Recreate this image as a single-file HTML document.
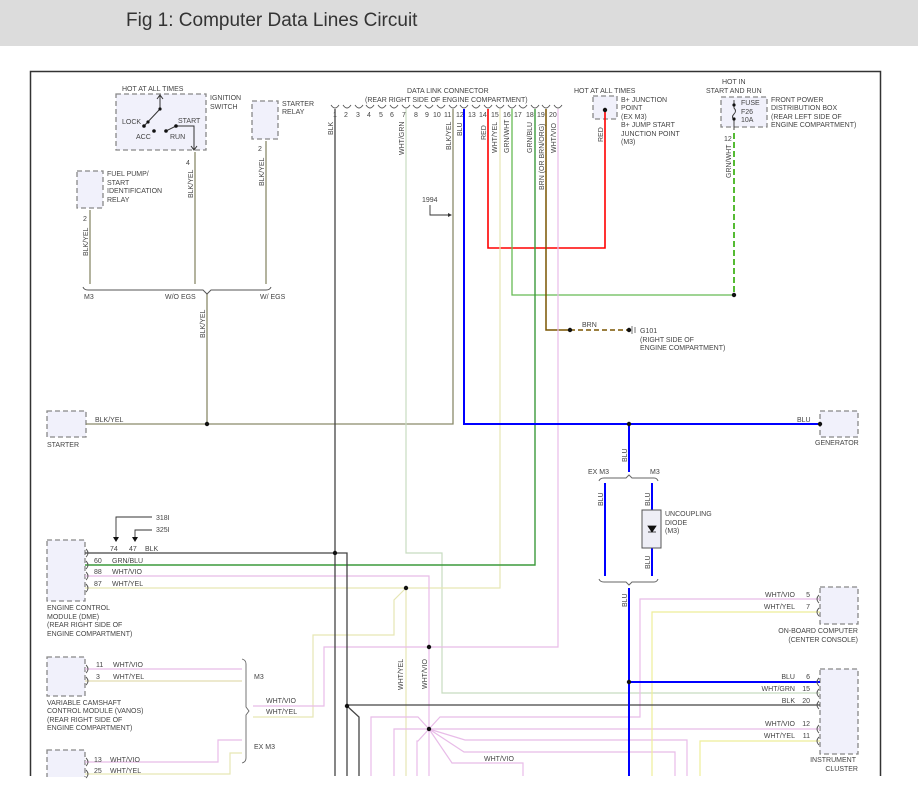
<!DOCTYPE html>
<html><head><meta charset="utf-8"><style>
html,body{margin:0;padding:0;background:#fff;width:918px;height:811px;overflow:hidden}
svg{display:block}
text{font-family:"Liberation Sans",sans-serif;font-size:7px;fill:#444}
.t{font-size:19px;fill:#333}
.box{fill:#f1f1fb;stroke:#888;stroke-width:1.3;stroke-dasharray:5,3}
.w{fill:none}
</style></head><body>
<svg width="918" height="811" viewBox="0 0 918 811" xmlns="http://www.w3.org/2000/svg">
<rect x="0" y="0" width="918" height="46" fill="#dcdcdc"/>
<text x="126" y="26" class="t">Fig 1: Computer Data Lines Circuit</text>
<path d="M30.5 776 V71.5 H880.5 V776" fill="none" stroke="#333" stroke-width="1.5"/>

<!-- boxes -->
<rect class="box" x="116" y="94" width="90" height="56"/>
<rect class="box" x="252" y="101" width="26" height="38"/>
<rect class="box" x="77" y="171" width="26" height="37"/>
<rect class="box" x="593" y="96" width="24" height="23"/>
<rect class="box" x="721" y="97" width="46" height="30"/>
<rect class="box" x="47" y="411" width="39" height="26"/>
<rect class="box" x="820" y="411" width="38" height="26"/>
<rect class="box" x="47" y="540" width="38" height="61"/>
<rect class="box" x="47" y="657" width="38" height="39"/>
<rect class="box" x="47" y="750" width="38" height="40"/>
<rect class="box" x="820" y="587" width="38" height="37"/>
<rect class="box" x="820" y="669" width="38" height="85"/>
<rect x="0" y="777" width="918" height="34" fill="#fff"/>

<!-- ignition switch -->
<g stroke="#333" fill="none" stroke-width="1">
<path d="M144 126 L160 109 V96"/><path d="M157 99 L160 95 L163 99"/>
<path d="M176 126 H194 V149"/><path d="M191 146 L194 150 L197 146"/>
<path d="M166 131 L176 126"/>
</g>
<g fill="#111"><circle cx="144" cy="126" r="1.8"/><circle cx="148" cy="122" r="1.6"/><circle cx="160" cy="109" r="1.6"/><circle cx="154" cy="131" r="1.8"/><circle cx="166" cy="131" r="1.8"/><circle cx="176" cy="126" r="1.8"/></g>
<text x="122" y="91">HOT AT ALL TIMES</text>
<text x="210" y="100">IGNITION</text><text x="210" y="109">SWITCH</text>
<text x="122" y="124">LOCK</text><text x="136" y="139">ACC</text><text x="178" y="123">START</text><text x="170" y="139">RUN</text>
<text x="282" y="106">STARTER</text><text x="282" y="114">RELAY</text>
<text x="107" y="176">FUEL PUMP/</text><text x="107" y="185">START</text><text x="107" y="193">IDENTIFICATION</text><text x="107" y="202">RELAY</text>
<text x="186" y="165">4</text><text x="258" y="151">2</text><text x="83" y="221">2</text>

<!-- BLK/YEL wires -->
<g stroke="#8a8a6a" stroke-width="1.3" fill="none">
<path d="M195 152 V284"/><path d="M266 141 V284"/><path d="M90 210 V284"/>
<path d="M207 294 V424"/><path d="M86 424 H453 V109"/>
</g>
<path d="M83 287 Q84 290 88 290 H203 L207 294 L211 290 H266 Q270 290 271 287" fill="none" stroke="#555" stroke-width="1"/>
<text x="84" y="299">M3</text><text x="165" y="299">W/O EGS</text><text x="260" y="299">W/ EGS</text>
<text transform="translate(193,198) rotate(-90)">BLK/YEL</text>
<text transform="translate(264,186) rotate(-90)">BLK/YEL</text>
<text transform="translate(88,256) rotate(-90)">BLK/YEL</text>
<text transform="translate(205,338) rotate(-90)">BLK/YEL</text>
<text x="95" y="422">BLK/YEL</text>
<text x="47" y="447">STARTER</text>
<text x="815" y="445">GENERATOR</text>

<!-- DLC -->
<text x="407" y="93">DATA LINK CONNECTOR</text>
<text x="365" y="102">(REAR RIGHT SIDE OF ENGINE COMPARTMENT)</text>
<g stroke="#555" fill="none" stroke-width="0.9">
<path d="M331 105 Q335 111 339 105 M343 105 Q347 111 351 105 M355 105 Q359 111 363 105 M366 105 Q370 111 374 105 M378 105 Q382 111 386 105 M390 105 Q394 111 398 105 M402 105 Q406 111 410 105 M413 105 Q417 111 421 105 M425 105 Q429 111 433 105 M437 105 Q441 111 445 105 M449 105 Q453 111 457 105 M460 105 Q464 111 468 105 M472 105 Q476 111 480 105 M484 105 Q488 111 492 105 M496 105 Q500 111 504 105 M508 105 Q512 111 516 105 M519 105 Q523 111 527 105 M531 105 Q535 111 539 105 M542 105 Q546 111 550 105 M554 105 Q558 111 562 105"/>
</g>
<g font-size="7"><text x="333" y="117">1</text><text x="344" y="117">2</text><text x="356" y="117">3</text><text x="367" y="117">4</text><text x="379" y="117">5</text><text x="390" y="117">6</text><text x="402" y="117">7</text><text x="414" y="117">8</text><text x="425" y="117">9</text><text x="433" y="117">10</text><text x="444" y="117">11</text><text x="456" y="117">12</text><text x="468" y="117">13</text><text x="479" y="117">14</text><text x="491" y="117">15</text><text x="503" y="117">16</text><text x="514" y="117">17</text><text x="526" y="117">18</text><text x="537" y="117">19</text><text x="549" y="117">20</text></g>
<text transform="translate(333,135) rotate(-90)">BLK</text>
<text transform="translate(404,155) rotate(-90)">WHT/GRN</text>
<text transform="translate(451,150) rotate(-90)">BLK/YEL</text>
<text transform="translate(462,136) rotate(-90)">BLU</text>
<text transform="translate(486,140) rotate(-90)">RED</text>
<text transform="translate(497,153) rotate(-90)">WHT/YEL</text>
<text transform="translate(509,153) rotate(-90)">GRN/WHT</text>
<text transform="translate(532,153) rotate(-90)">GRN/BLU</text>
<text transform="translate(544,190) rotate(-90)">BRN (OR BRN/ORG)</text>
<text transform="translate(556,153) rotate(-90)">WHT/VIO</text>
<text transform="translate(603,142) rotate(-90)">RED</text>
<text x="422" y="202">1994</text>
<path d="M430 205 V215 H450" fill="none" stroke="#333" stroke-width="0.9"/><path d="M448 213 L452 215 L448 217Z" fill="#333"/>

<!-- B+ junction -->
<text x="574" y="93">HOT AT ALL TIMES</text>
<text x="621" y="102">B+ JUNCTION</text><text x="621" y="110">POINT</text><text x="621" y="119">(EX M3)</text><text x="621" y="127">B+ JUMP START</text><text x="621" y="136">JUNCTION POINT</text><text x="621" y="144">(M3)</text>
<path d="M488 109 V248 H605 V110" fill="none" stroke="#f00" stroke-width="1.6"/>
<circle cx="605" cy="110" r="2.2" fill="#111"/>

<!-- fuse -->
<text x="722" y="84">HOT IN</text><text x="706" y="93">START AND RUN</text>
<text x="741" y="105">FUSE</text><text x="741" y="114">F26</text><text x="741" y="122">10A</text>
<text x="771" y="102">FRONT POWER</text><text x="771" y="110">DISTRIBUTION BOX</text><text x="771" y="119">(REAR LEFT SIDE OF</text><text x="771" y="127">ENGINE COMPARTMENT)</text>
<path d="M734 100 V108 Q737 111 734 114 Q731 117 734 120 V130" fill="none" stroke="#333" stroke-width="0.9"/>
<circle cx="734" cy="105" r="1.6" fill="#111"/><circle cx="734" cy="119" r="1.6" fill="#111"/>
<text x="724" y="141">12</text>
<text transform="translate(731,178) rotate(-90)">GRN/WHT</text>
<path d="M734 133 V295" stroke="#55bb33" stroke-width="2" stroke-dasharray="6,3" fill="none"/>
<path d="M512 109 V295 H734" stroke="#66bb55" stroke-width="1.3" fill="none"/>
<circle cx="734" cy="295" r="2.2" fill="#111"/>

<!-- BRN ground -->
<path d="M546 109 V330 H570" stroke="#7a5500" stroke-width="1.5" fill="none"/>
<path d="M570 330 H629" stroke="#7a5500" stroke-width="1.5" stroke-dasharray="5,3" fill="none"/>
<circle cx="570" cy="330" r="2.2" fill="#111"/><circle cx="629" cy="330" r="2.2" fill="#111"/>
<path d="M632 326 V334 M635 327 V333" stroke="#666" stroke-width="0.9"/>
<text x="582" y="327">BRN</text>
<text x="640" y="333">G101</text><text x="640" y="342">(RIGHT SIDE OF</text><text x="640" y="350">ENGINE COMPARTMENT)</text>

<!-- light wires -->
<g fill="none" stroke-width="1.2">
<path d="M406 109 V553 H442 V693 H820" stroke="#c8dcc0"/>
<path d="M500 109 V588 H85" stroke="#e6e6b4"/>
<path d="M406 588 L394 600 V635 H313 V717 H253" stroke="#e6e6b4"/>
<path d="M406 588 V776" stroke="#e6e6b4"/>
<path d="M558 109 V647 H324 V706 H253" stroke="#e8bce8"/>
<path d="M85 576 H429 V776" stroke="#e8bce8"/>
<path d="M85 669 H242 M85 681 H242" stroke="#e8bce8"/>
<path d="M85 681 H242" stroke="#e6e6b4"/>
<path d="M85 762 H218 V740 H242" stroke="#e8bce8"/>
<path d="M85 774 H230 V753 H242" stroke="#e6e6b4"/>
<path d="M429 729 L440 717 H640 V599 H820" stroke="#e8bce8"/>
<path d="M429 729 H820" stroke="#e8bce8"/>
<path d="M429 729 L465 740 H687 V776" stroke="#e8bce8"/>
<path d="M429 729 L464 752 H675 V776" stroke="#e8bce8"/>
<path d="M429 729 L452 763 H523 V776" stroke="#e8bce8"/>
<path d="M429 729 L418 717 H371 V776" stroke="#e8bce8"/>
<path d="M429 729 L418 729 H394 V776" stroke="#e8bce8"/>
<path d="M429 729 L418 741 H417 V776" stroke="#e8bce8"/>
<path d="M820 612 H652 V776" stroke="#eeee99"/>
<path d="M820 741 H700 V776" stroke="#eeee99"/>
</g>
<path d="M535 109 V565 H85" stroke="#3c9a3c" stroke-width="1.4" fill="none"/>

<!-- BLK -->
<g stroke="#444" stroke-width="1.3" fill="none">
<path d="M335 109 V776"/>
<path d="M85 553 H347 V776"/>
<path d="M347 705 H820"/>
<path d="M347 706 L359 717 V776"/>
</g>
<!-- BLU -->
<g stroke="#0000ff" stroke-width="2" fill="none">
<path d="M464 109 V424 H820"/>
<path d="M629 424 V472"/>
<path d="M605 483 V576"/>
<path d="M652 483 V510 M652 548 V576"/>
<path d="M629 588 V776"/>
<path d="M629 682 H820"/>
</g>
<path d="M599 481 Q600 478 604 478 H626 L629 475 L632 478 H654 Q657 478 658 481" fill="none" stroke="#666" stroke-width="1"/>
<path d="M599 579 Q600 582 604 582 H626 L629 585 L632 582 H654 Q657 582 658 579" fill="none" stroke="#666" stroke-width="1"/>
<rect x="642" y="510" width="19" height="38" fill="#eeeef6" stroke="#555"/>
<path d="M648 526 H656 L652 532Z M648 532 H656" fill="#111" stroke="#111" stroke-width="0.8"/>
<text x="588" y="474">EX M3</text><text x="650" y="474">M3</text>
<text transform="translate(627,462) rotate(-90)">BLU</text>
<text transform="translate(603,506) rotate(-90)">BLU</text>
<text transform="translate(650,506) rotate(-90)">BLU</text>
<text transform="translate(650,569) rotate(-90)">BLU</text>
<text transform="translate(627,607) rotate(-90)">BLU</text>
<text x="665" y="516">UNCOUPLING</text><text x="665" y="525">DIODE</text><text x="665" y="533">(M3)</text>
<text x="797" y="422">BLU</text>

<!-- dots -->
<g fill="#111">
<circle cx="207" cy="424" r="2.2"/><circle cx="629" cy="424" r="2.2"/><circle cx="820" cy="424" r="2.2"/>
<circle cx="335" cy="553" r="2.2"/><circle cx="406" cy="588" r="2.2"/><circle cx="429" cy="647" r="2.2"/>
<circle cx="347" cy="706" r="2.2"/><circle cx="429" cy="729" r="2.2"/><circle cx="629" cy="682" r="2.2"/>
</g>

<!-- ECM -->
<path d="M116 541 V517 H152 M135 541 V530 H152" fill="none" stroke="#333" stroke-width="0.9"/>
<path d="M113 537 L116 542 L119 537Z M132 537 L135 542 L138 537Z" fill="#111"/>
<text x="156" y="520">318I</text><text x="156" y="532">325I</text>
<text x="110" y="551">74</text><text x="129" y="551">47</text><text x="145" y="551">BLK</text>
<text x="94" y="563">60</text><text x="112" y="563">GRN/BLU</text>
<text x="94" y="574">88</text><text x="112" y="574">WHT/VIO</text>
<text x="94" y="586">87</text><text x="112" y="586">WHT/YEL</text>
<text x="47" y="610">ENGINE CONTROL</text><text x="47" y="619">MODULE (DME)</text><text x="47" y="627">(REAR RIGHT SIDE OF</text><text x="47" y="636">ENGINE COMPARTMENT)</text>
<g fill="none" stroke="#555" stroke-width="0.9">
<path d="M86 549 Q90 553 86 557 M86 561 Q90 565 86 569 M86 572 Q90 576 86 580 M86 584 Q90 588 86 592"/>
<path d="M86 665 Q90 669 86 673 M86 677 Q90 681 86 685 M86 758 Q90 762 86 766 M86 770 Q90 774 86 778"/>
<path d="M819 595 Q815 599 819 603 M819 608 Q815 612 819 616 M819 678 Q815 682 819 686 M819 689 Q815 693 819 697 M819 701 Q815 705 819 709 M819 725 Q815 729 819 733 M819 737 Q815 741 819 745"/>
<path d="M242 659 Q246 660 246 664 V707 L249 711 L246 715 V758 Q246 762 242 763" stroke="#666"/>
</g>
<text x="96" y="667">11</text><text x="113" y="667">WHT/VIO</text>
<text x="96" y="679">3</text><text x="113" y="679">WHT/YEL</text>
<text x="47" y="705">VARIABLE CAMSHAFT</text><text x="47" y="713">CONTROL MODULE (VANOS)</text><text x="47" y="722">(REAR RIGHT SIDE OF</text><text x="47" y="730">ENGINE COMPARTMENT)</text>
<text x="254" y="679">M3</text><text x="254" y="749">EX M3</text>
<text x="266" y="703">WHT/VIO</text><text x="266" y="714">WHT/YEL</text>
<text x="94" y="762">13</text><text x="110" y="762">WHT/VIO</text>
<text x="94" y="773">25</text><text x="110" y="773">WHT/YEL</text>
<text transform="translate(403,690) rotate(-90)">WHT/YEL</text>
<text transform="translate(427,689) rotate(-90)">WHT/VIO</text>
<text x="484" y="761">WHT/VIO</text>

<!-- right components -->
<g text-anchor="end">
<text x="795" y="597">WHT/VIO</text><text x="810" y="597">5</text>
<text x="795" y="609">WHT/YEL</text><text x="810" y="609">7</text>
<text x="858" y="633">ON-BOARD COMPUTER</text><text x="858" y="642">(CENTER CONSOLE)</text>
<text x="795" y="679">BLU</text><text x="810" y="679">6</text>
<text x="795" y="691">WHT/GRN</text><text x="810" y="691">15</text>
<text x="795" y="703">BLK</text><text x="810" y="703">20</text>
<text x="795" y="726">WHT/VIO</text><text x="810" y="726">12</text>
<text x="795" y="738">WHT/YEL</text><text x="810" y="738">11</text>
<text x="856" y="762">INSTRUMENT</text><text x="858" y="771">CLUSTER</text>
</g>
</svg>
</body></html>
